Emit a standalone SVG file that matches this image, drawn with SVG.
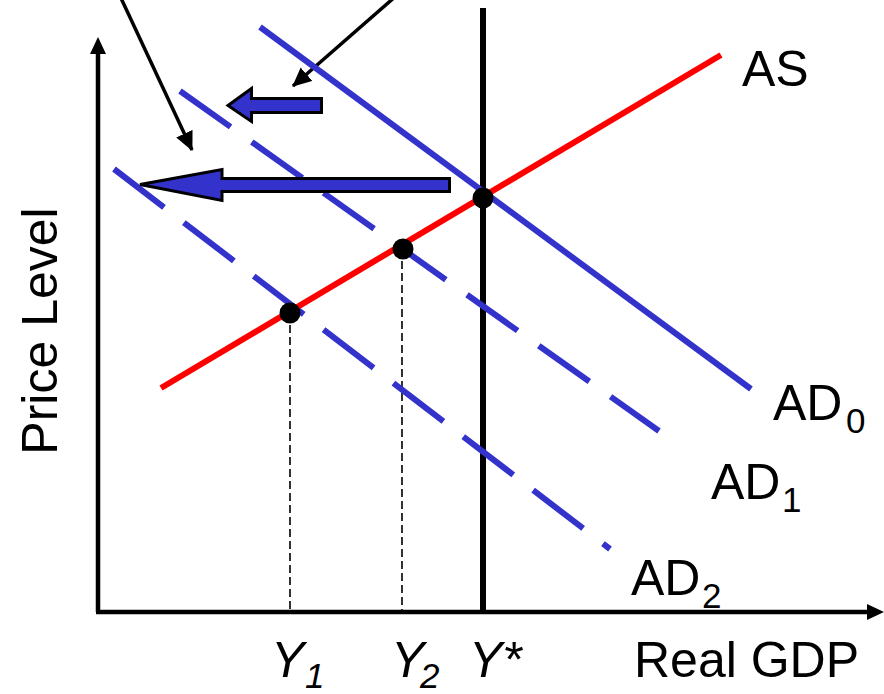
<svg xmlns="http://www.w3.org/2000/svg" width="884" height="694" viewBox="0 0 884 694">
<style>
text{font-family:"Liberation Sans",Arial,sans-serif;fill:#000}
.lbl{font-size:50px}
.sub{font-size:35px}
.ad{stroke:#3333CC;stroke-width:6;fill:none}
.fat{fill:#3333CC;stroke:#000;stroke-width:3}
.guide{stroke:#000;stroke-width:1.6;stroke-dasharray:8 4;fill:none}
.dot{fill:#000}
.ptr{stroke:#000;stroke-width:3.5}
</style>
<defs>
<marker id="ptr" markerWidth="20" markerHeight="18" refX="18" refY="9" orient="auto" markerUnits="userSpaceOnUse">
<path d="M0,0 L19,9 L0,18 Z" fill="#000"/>
</marker>
</defs>
<rect width="884" height="694" fill="#fff"/>
<g id="axes">
<line x1="98" y1="612" x2="98" y2="50" stroke="#000" stroke-width="4.5"/>
<path d="M98,37 L106,54 L90,54 Z" fill="#000"/>
<line x1="96" y1="612" x2="870" y2="612" stroke="#000" stroke-width="4.5"/>
<path d="M884,612 L867,604 L867,620 Z" fill="#000"/>
<text class="lbl" transform="translate(57,331) rotate(-90)" text-anchor="middle" font-size="52">Price Level</text>
<text class="lbl" x="634" y="677" font-size="48">Real GDP</text>
</g>
<g id="connectors">
<line class="guide" x1="290" y1="313" x2="290" y2="612"/>
<line class="guide" x1="402" y1="249" x2="402" y2="612"/>
<line class="ptr" x1="120" y1="-4" x2="192" y2="150" marker-end="url(#ptr)"/>
<line class="ptr" x1="396" y1="-4" x2="293" y2="86" marker-end="url(#ptr)"/>
</g>
<g id="ystar-line">
<line x1="483" y1="8" x2="483" y2="614" stroke="#000" stroke-width="6"/>
</g>
<g id="AD0">
<line class="ad" x1="260" y1="27" x2="751" y2="389"/>
<text class="lbl" x="773" y="420">AD</text><text class="sub" x="846" y="433">0</text>
</g>
<g id="AD1">
<line class="ad" x1="180" y1="91" x2="659" y2="431" stroke-dasharray="62 26"/>
<text class="lbl" x="711" y="499">AD</text><text class="sub" x="782" y="512">1</text>
</g>
<g id="AD2">
<line class="ad" x1="114" y1="169" x2="610" y2="549" stroke-dasharray="63 25"/>
<text class="lbl" x="631" y="595">AD</text><text class="sub" x="702" y="608">2</text>
</g>
<g id="AS">
<line x1="161" y1="388" x2="721" y2="55" stroke="#FF0000" stroke-width="6"/>
<text class="lbl" x="742" y="86">AS</text>
</g>
<g id="points">
<circle class="dot" cx="483" cy="198" r="10.5"/>
<circle class="dot" cx="403" cy="249" r="10.5"/>
<circle class="dot" cx="290" cy="313" r="10.5"/>
</g>
<g id="shift-small">
<path class="fat" d="M321.5,98.5 L251.5,98.5 L251.5,88.5 L228,105.5 L251.5,121.5 L251.5,112.5 L321.5,112.5 Z"/>
</g>
<g id="shift-large">
<path class="fat" d="M449.5,178.5 L222,178.5 L222,169.5 L140,184.5 L222,200.5 L222,191.5 L449.5,191.5 Z"/>
</g>
<g id="x-labels">
<text class="lbl" x="271" y="677" font-style="italic">Y</text><text class="sub" x="305" y="688" font-style="italic">1</text>
<text class="lbl" x="391" y="677" font-style="italic">Y</text><text class="sub" x="420" y="688" font-style="italic">2</text>
<text class="lbl" x="469" y="677" font-style="italic">Y*</text>
</g>
</svg>
